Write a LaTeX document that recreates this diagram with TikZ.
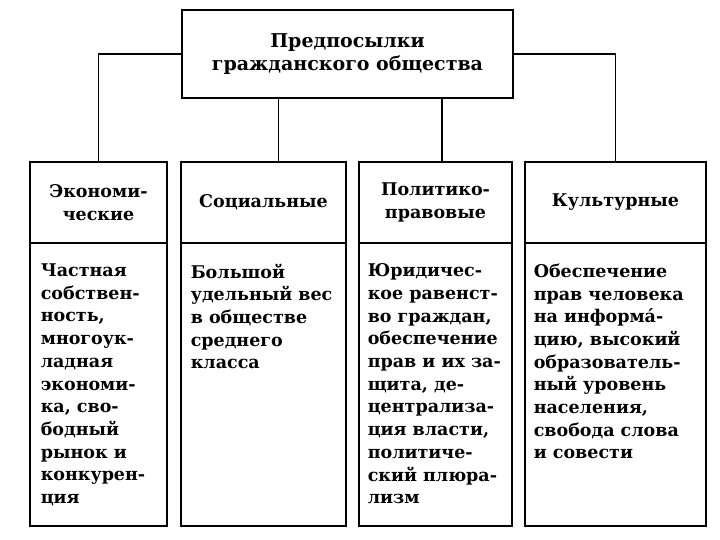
\documentclass[tikz,border=0pt]{standalone}
\usepackage{fontspec}
\setmainfont{DejaVu Serif}
\usetikzlibrary{positioning}

\begin{document}
\begin{tikzpicture}[x=1pt,y=-1pt,line width=1.6pt,
  font=\bfseries\fontsize{17.5}{22.7}\selectfont]
\tikzset{
  mainbox/.style={draw,minimum width=331pt,minimum height=88pt,align=center,inner sep=0pt,outer sep=0pt,
    font=\bfseries\fontsize{19}{22.5}\selectfont},
  headbox/.style={draw,minimum height=81pt,align=center,inner sep=0pt,outer sep=0pt},
  bodybox/.style={draw,minimum height=283pt,inner sep=0pt,outer sep=0pt},
  bodytext/.style={align=left,inner sep=0pt,anchor=north west}
}
\useasboundingbox (0,0) rectangle (720,540);

\node[mainbox](pre) at (347.5,54){Предпосылки\\гражданского общества};

\node[headbox,minimum width=137pt,anchor=north west](econ) at (30,162){Экономи-\\ческие};
\node[headbox,minimum width=165pt,right=14pt of econ](soc){Социальные};
\node[headbox,minimum width=153pt,right=13pt of soc](pol){Политико-\\правовые};
\node[headbox,minimum width=181pt,right=13pt of pol](cult){Культурные};

\node[bodybox,minimum width=137pt,below=0pt of econ](econbody){};
\node[bodybox,minimum width=165pt,below=0pt of soc](socbody){};
\node[bodybox,minimum width=153pt,below=0pt of pol](polbody){};
\node[bodybox,minimum width=181pt,below=0pt of cult](cultbody){};

\node[bodytext,below right=20pt and 10pt of econbody.north west](econtxt){Частная\\собствен-\\ность,\\многоук-\\ладная\\экономи-\\ка, сво-\\бодный\\рынок и\\конкурен-\\ция};
\node[bodytext,below right=20pt and 9pt of socbody.north west](soctxt){Большой\\удельный вес\\в обществе\\среднего\\класса};
\node[bodytext,below right=20pt and 8pt of polbody.north west](poltxt){Юридичес-\\кое равенст-\\во граждан,\\обеспечение\\прав и их за-\\щита, де-\\централиза-\\ция власти,\\политиче-\\ский плюра-\\лизм};
\node[bodytext,below right=20pt and 8pt of cultbody.north west](culttxt){Обеспечение\\прав человека\\на информа́-\\цию, высокий\\образователь-\\ный уровень\\населения,\\свобода слова\\и совести};

\draw(pre.west) -| (econ.north);
\draw(pre.east) -| (cult.north);
\draw([xshift=15pt]soc.north) -- ([xshift=15pt]soc.north |- pre.south);
\draw([xshift=6.5pt]pol.north) -- ([xshift=6.5pt]pol.north |- pre.south);

\end{tikzpicture}
\end{document}
